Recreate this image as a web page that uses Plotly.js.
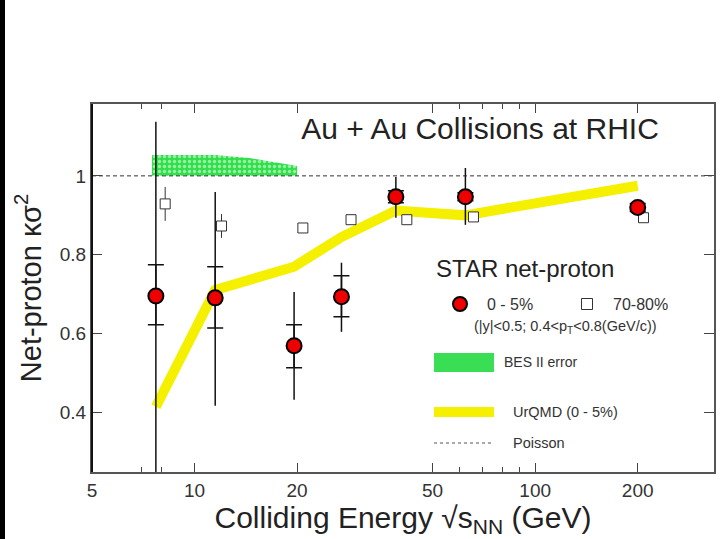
<!DOCTYPE html>
<html>
<head>
<meta charset="utf-8">
<script src="https://cdn.plot.ly/plotly-3.0.1.min.js"></script>
<style>
html,body{margin:0;padding:0;background:#fff;}
#wrap{position:relative;width:720px;height:539px;}
#chart{width:720px;height:539px;}
#strip{position:absolute;left:0;top:0;width:5px;height:539px;background:#000;}
</style>
</head>
<body>
<div id="wrap"><div id="chart"></div><div id="strip"></div></div>
<script>
// ---- data ----
const energy = [7.7, 11.5, 19.6, 27, 39, 62.4, 200];
const central = [0.696, 0.691, 0.570, 0.694, 0.947, 0.947, 0.920];
const centralStatHi = [0.441, 0.268, 0.136, 0.086, 0.050, 0.073, 0.020];
const centralStatLo = [0.500, 0.273, 0.137, 0.089, 0.053, 0.071, 0.020];
const centralSysHi = [0.079, 0.079, 0.053, 0.053, 0.015, 0.010, 0.010];
const centralSysLo = [0.073, 0.076, 0.056, 0.051, 0.015, 0.010, 0.010];

const periphEnergy = [8.2, 12.0, 20.8, 28.8, 42, 65.9, 208];
const peripheral = [0.929, 0.873, 0.868, 0.889, 0.889, 0.896, 0.894];
const periphErr = [0.043, 0.030, 0.010, 0.010, 0.010, 0.010, 0.010];

const urqmdEnergy = [7.7, 11.5, 19.6, 27, 39, 62.4, 200];
const urqmd = [0.415, 0.711, 0.770, 0.845, 0.912, 0.900, 0.975];

const besEnergy = [7.5, 11.5, 14.5, 20];
const besLower = [1.0, 1.0, 1.0, 1.0];
const besUpper = [1.053, 1.053, 1.045, 1.025];

const poissonEnergy = [5, 335];
const poisson = [1, 1];

const xTickVals = [5, 10, 20, 50, 100, 200];
const xTickText = ['5', '10', '20', '50', '100', '200'];
const xMinorVals = [7, 8, 60, 70, 80, 90];
const yTickVals = [0.4, 0.6, 0.8, 1];
const yTickText = ['0.4', '0.6', '0.8', '1'];

// ---- layout helpers ----
const L = 92, T = 104, W = 622, H = 368;
const px = x => (x - L) / W;
const py = y => (T + H - y) / H;
const FONT = 'Liberation Sans, Arial, Helvetica, sans-serif';

const traces = [
  {x: besEnergy, y: besLower, mode: 'lines', line: {width: 0, color: 'rgba(0,0,0,0)'}, hoverinfo: 'skip', showlegend: false},
  {x: besEnergy, y: besUpper, mode: 'lines', line: {width: 0, color: 'rgba(0,0,0,0)'}, fill: 'tonexty',
   fillcolor: '#30df4a', fillpattern: {shape: '.', bgcolor: '#30df4a', fgcolor: '#9af0a6', size: 5, solidity: 0.35}, showlegend: false},
  {x: poissonEnergy, y: poisson, mode: 'lines', line: {color: '#333', width: 1, dash: '4px,3px'}, showlegend: false},
  {x: urqmdEnergy, y: urqmd, mode: 'lines', line: {color: '#f4f000', width: 10}, showlegend: false},
  {x: periphEnergy, y: peripheral, mode: 'markers', showlegend: false,
   marker: {symbol: 'square', size: 10, color: '#fff', line: {color: '#333', width: 1}},
   error_y: {type: 'data', array: periphErr, color: '#333', thickness: 1, width: 0}},
  {x: energy, y: central, mode: 'markers', showlegend: false, marker: {size: 0.1, color: 'rgba(0,0,0,0)'},
   error_y: {type: 'data', symmetric: false, array: centralStatHi, arrayminus: centralStatLo, color: '#111', thickness: 1.5, width: 0}},
  {x: energy, y: central, mode: 'markers', showlegend: false, marker: {size: 0.1, color: 'rgba(0,0,0,0)'},
   error_y: {type: 'data', symmetric: false, array: centralSysHi, arrayminus: centralSysLo, color: '#111', thickness: 1.5, width: 8}},
  {x: energy, y: central, mode: 'markers', showlegend: false,
   marker: {symbol: 'circle', size: 15, color: '#ee0000', line: {color: '#000', width: 2}}},
  {x: [10], y: [0], xaxis: 'x2', mode: 'markers', marker: {opacity: 0}, showlegend: false, hoverinfo: 'skip'}
];

const xr = [Math.log10(5), Math.log10(335)];
const layout = {
  width: 720, height: 539,
  margin: {l: L, r: 720 - L - W, t: T, b: 539 - T - H},
  paper_bgcolor: '#fff', plot_bgcolor: '#fff',
  font: {family: FONT, color: '#222'},
  showlegend: false,
  title: {text: 'Au + Au Collisions at RHIC', font: {size: 30, color: '#222', family: FONT},
          x: 480 / 720, xanchor: 'center', xref: 'container', y: (539 - 128) / 539, yanchor: 'middle', yref: 'container'},
  xaxis: {type: 'log', range: xr, tickvals: xTickVals, ticktext: xTickText, ticks: 'inside', ticklen: 9,
          tickcolor: '#444', tickwidth: 1, showline: true, linecolor: '#555', linewidth: 2, mirror: 'ticks',
          showgrid: false, zeroline: false, tickfont: {size: 19, color: '#333'},
          title: {text: 'Colliding Energy √s<sub>NN</sub> (GeV)', font: {size: 30, color: '#222'}, standoff: 6}},
  xaxis2: {type: 'log', range: xr, overlaying: 'x', anchor: 'y', side: 'bottom', tickvals: xMinorVals,
           showticklabels: false, ticks: 'inside', ticklen: 5, tickcolor: '#444', tickwidth: 1, mirror: 'ticks',
           showline: false, showgrid: false, zeroline: false},
  yaxis: {range: [0.25, 1.182], tickvals: yTickVals, ticktext: yTickText, ticks: 'inside', ticklen: 10,
          tickcolor: '#444', tickwidth: 1, showline: true, linecolor: '#555', linewidth: 2, mirror: 'ticks',
          showgrid: false, zeroline: false, tickfont: {size: 19, color: '#333'},
          title: {text: 'Net-proton κσ<sup>2</sup>', font: {size: 29, color: '#222'}, standoff: 10}},
  shapes: [
    {type: 'line', xref: 'paper', yref: 'paper', x0: 0, x1: 0, y0: 0, y1: 1, line: {color: '#111', width: 2}},
    {type: 'circle', xref: 'paper', yref: 'paper', x0: px(453), x1: px(467), y0: py(311), y1: py(297),
     fillcolor: '#ee0000', line: {color: '#000', width: 2}},
    {type: 'rect', xref: 'paper', yref: 'paper', x0: px(581.5), x1: px(592.5), y0: py(309.5), y1: py(298.5),
     fillcolor: '#fff', line: {color: '#333', width: 1}},
    {type: 'rect', xref: 'paper', yref: 'paper', x0: px(434), x1: px(494), y0: py(372), y1: py(353),
     fillcolor: '#3ade55', line: {width: 0}},
    {type: 'rect', xref: 'paper', yref: 'paper', x0: px(434), x1: px(494), y0: py(417), y1: py(407),
     fillcolor: '#f4f000', line: {width: 0}},
    {type: 'line', xref: 'paper', yref: 'paper', x0: px(434), x1: px(494), y0: py(443), y1: py(443),
     line: {color: '#555', width: 1, dash: '3px,3px'}}
  ],
  annotations: [
    {text: 'STAR net-proton', xref: 'paper', yref: 'paper', x: px(434), y: py(268), xanchor: 'left', yanchor: 'middle',
     showarrow: false, font: {size: 24, color: '#222'}},
    {text: '0 - 5%', xref: 'paper', yref: 'paper', x: px(485), y: py(304), xanchor: 'left', yanchor: 'middle',
     showarrow: false, font: {size: 16, color: '#333'}},
    {text: '70-80%', xref: 'paper', yref: 'paper', x: px(611), y: py(304), xanchor: 'left', yanchor: 'middle',
     showarrow: false, font: {size: 16, color: '#333'}},
    {text: '(|y|&lt;0.5; 0.4&lt;p<sub>T</sub>&lt;0.8(GeV/c))', xref: 'paper', yref: 'paper', x: px(472), y: py(327),
     xanchor: 'left', yanchor: 'middle', showarrow: false, font: {size: 14.5, color: '#333'}},
    {text: 'BES II error', xref: 'paper', yref: 'paper', x: px(502), y: py(362), xanchor: 'left', yanchor: 'middle',
     showarrow: false, font: {size: 14, color: '#333'}},
    {text: 'UrQMD (0 - 5%)', xref: 'paper', yref: 'paper', x: px(511), y: py(412), xanchor: 'left', yanchor: 'middle',
     showarrow: false, font: {size: 14.5, color: '#333'}},
    {text: 'Poisson', xref: 'paper', yref: 'paper', x: px(511), y: py(443), xanchor: 'left', yanchor: 'middle',
     showarrow: false, font: {size: 14.5, color: '#333'}}
  ]
};

Plotly.newPlot('chart', traces, layout, {staticPlot: true, displayModeBar: false});
</script>
</body>
</html>
